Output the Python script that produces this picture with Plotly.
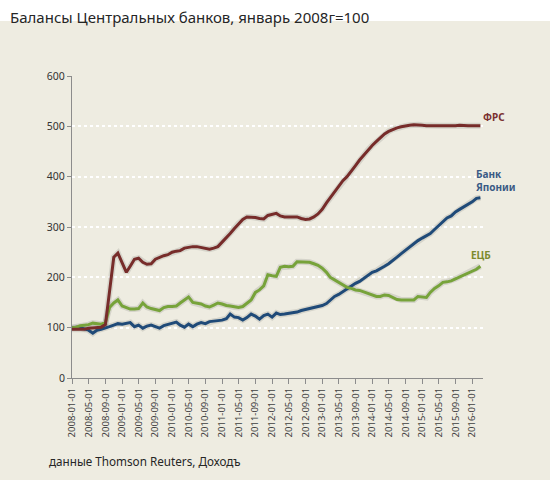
import pandas as pd
import plotly.graph_objects as go

dates = pd.date_range("2008-01-01", periods=99, freq="MS")

fed = [97, 97, 96, 97, 99, 100, 100, 101, 106, 175, 240, 248, 228, 210, 222, 236, 238, 230, 226, 227,
       236, 240, 243, 245, 250, 252, 253, 258, 260, 261, 261, 259, 257, 256, 258, 261, 270, 278, 287, 297,
       307, 315, 320, 320, 319, 317, 316, 323, 325, 327, 322, 320, 320, 320, 320, 317, 315, 316, 320, 326,
       335, 348, 358, 368, 380, 392, 400, 410, 422, 433, 443, 453, 462, 470, 478, 485, 490, 494, 497, 499,
       501, 502, 503, 503, 502, 501, 501, 500, 501, 501, 500, 501, 501, 502, 501, 501, 501, 501, 501]

boj = [100, 101, 100, 97, 95, 89, 95, 97, 99, 102, 105, 108, 107, 108, 110, 102, 105, 99, 103, 105,
       102, 99, 104, 106, 108, 111, 105, 101, 107, 102, 107, 110, 108, 112, 113, 114, 115, 118, 127, 121,
       120, 115, 120, 127, 123, 117, 124, 127, 121, 129, 126, 127, 128, 130, 131, 134, 136, 137, 139, 141,
       144, 148, 155, 162, 166, 172, 177, 183, 188, 192, 198, 204, 210, 213, 218, 222, 227, 233, 240, 247,
       254, 260, 266, 273, 278, 283, 287, 295, 303, 310, 318, 322, 330, 335, 340, 345, 350, 357, 358]

ecb = [100, 101, 104, 105, 106, 109, 108, 107, 110, 140, 149, 155, 143, 139, 137, 137, 138, 149, 141, 138,
       136, 134, 140, 142, 142, 143, 149, 155, 161, 150, 148, 147, 143, 141, 145, 149, 147, 144, 143, 141,
       140, 142, 148, 155, 170, 175, 183, 205, 203, 202, 220, 222, 221, 222, 231, 231, 231, 230, 227, 224,
       218, 210, 200, 195, 190, 184, 180, 178, 175, 174, 171, 168, 165, 162, 162, 165, 164, 160, 156, 155,
       155, 155, 155, 162, 161, 160, 170, 178, 183, 190, 191, 193, 197, 201, 205, 208, 212, 216, 222]

tick_labels = [d.strftime("%Y-%m-%d") for d in pd.date_range("2008-01-01", "2016-01-01", freq="4MS")]
y_ticks = [0, 100, 200, 300, 400, 500, 600]

names = ["ФРС", "Банк<br>Японии", "ЕЦБ"]
line_colors = ["#772C2A", "#1F4A78", "#77A33A"]
label_colors = ["#7A3030", "#3A5A85", "#7D8A2E"]
series = [fed, boj, ecb]

BG = "#EEECE1"
fig = go.Figure()

for vals in series:
    fig.add_trace(go.Scatter(x=dates, y=vals, mode="lines",
                             line=dict(color="rgba(0,0,0,0.10)", width=6),
                             hoverinfo="skip", showlegend=False))
for vals, col in zip([boj, ecb, fed], [line_colors[1], line_colors[2], line_colors[0]]):
    fig.add_trace(go.Scatter(x=dates, y=vals, mode="lines",
                             line=dict(color=col, width=3), showlegend=False))

shifts = [(1, 9), (-6, 17), (-11, 11)]
for vals, name, col, (xs, ys) in zip(series, names, label_colors, shifts):
    fig.add_annotation(x=dates[-1], y=vals[-1], text="<b>" + name + "</b>", showarrow=False,
                       xanchor="left", yanchor="middle", align="left", xshift=xs, yshift=ys,
                       font=dict(family="Noto Sans", size=10, color=col))

fig.add_shape(type="rect", xref="paper", yref="paper", x0=-0.2, x1=1.2,
              y0=(480 - 76 - 47) / (480 - 76 - 102), y1=1.5,
              fillcolor="white", line=dict(width=0), layer="below")

fig.add_annotation(xref="paper", yref="paper", x=(8 - 72) / 411, y=(480 - 102 - 17) / 302,
                   text="Балансы Центральных банков, январь 2008г=100", showarrow=False,
                   xanchor="left", yanchor="middle",
                   font=dict(family="Noto Sans", size=15, color="#262626"))
fig.add_annotation(xref="paper", yref="paper", x=(47 - 72) / 411, y=(480 - 102 - 461) / 302,
                   text="данные Thomson Reuters, Доходъ", showarrow=False,
                   xanchor="left", yanchor="middle",
                   font=dict(family="Noto Sans", size=11.7, color="#262626"))

fig.update_layout(
    width=550, height=480,
    margin=dict(l=72, r=67, t=76, b=102),
    paper_bgcolor=BG, plot_bgcolor=BG,
    showlegend=False, hovermode=False,
    xaxis=dict(range=["2008-01-01", "2016-03-20"], tickmode="array",
               tickvals=tick_labels, ticktext=tick_labels, tickangle=-90,
               showgrid=False, showline=True, linecolor="#8C8C8C", linewidth=1,
               ticks="outside", ticklen=5, tickcolor="#8C8C8C",
               tickfont=dict(family="Noto Sans", size=9.5, color="#404040"),
               zeroline=False),
    yaxis=dict(range=[0, 600], tickmode="array", tickvals=y_ticks,
               showgrid=True, gridcolor="white", gridwidth=1.5, griddash="dot",
               showline=True, linecolor="#8C8C8C", linewidth=1,
               ticks="outside", ticklen=4, tickcolor="#8C8C8C",
               tickfont=dict(family="Noto Sans", size=10.5, color="#333333"),
               zeroline=False),
)

fig.write_html("out.html", config={"displayModeBar": False},
               post_script="document.body.style.margin='0';document.body.style.overflow='hidden';")
